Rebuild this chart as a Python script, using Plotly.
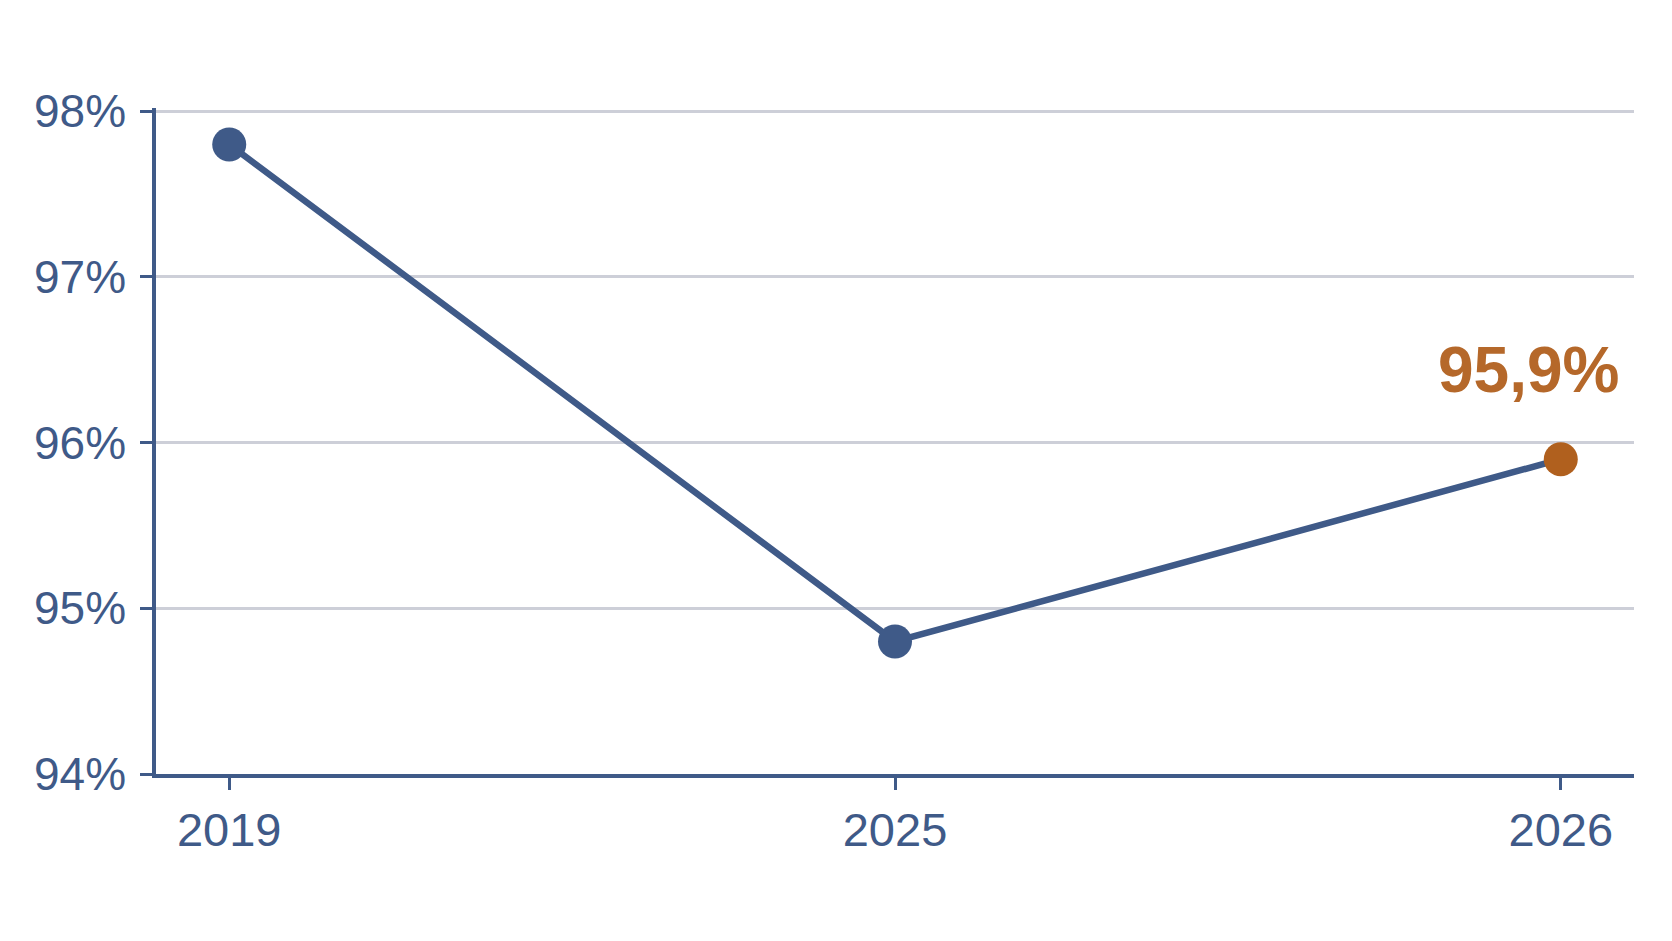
import plotly.graph_objects as go

years = ["2019", "2025", "2026"]
rates = [97.8, 94.8, 95.9]
point_colors = ["#3F5A88", "#3F5A88", "#B0601E"]
y_ticks = [94, 95, 96, 97, 98]
y_labels = ["94%", "95%", "96%", "97%", "98%"]
last_label = "95,9%"

blue = "#3F5A88"
font_name = "Liberation Sans, Arial"

fig = go.Figure()
fig.add_trace(go.Scatter(
    x=years, y=rates,
    mode="lines+markers",
    line=dict(color=blue, width=6.5),
    marker=dict(size=34, color=point_colors),
    hoverinfo="skip",
    showlegend=False,
))

# label over the latest value (category index, a "2026" string would be read as a number)
fig.add_annotation(
    x=len(years) - 1, y=rates[-1],
    xref="x", yref="y",
    text="<b>" + last_label + "</b>",
    showarrow=False,
    xshift=-32, yshift=89,
    font=dict(family=font_name, size=64, color="#B5682A"),
)

fig.update_xaxes(
    type="category",
    range=[-0.11, 2.11],
    showgrid=False,
    showline=True, linecolor=blue, linewidth=3.5,
    ticks="outside", ticklen=12, tickwidth=3, tickcolor=blue,
    tickfont=dict(family=font_name, size=47, color=blue),
)
fig.update_yaxes(
    range=[94, 98.02],
    tickvals=y_ticks,
    ticktext=y_labels,
    showgrid=True, gridcolor="#CDCFD8", gridwidth=2.5,
    zeroline=False,
    showline=True, linecolor=blue, linewidth=3.5,
    ticks="outside", ticklen=12, tickwidth=3, tickcolor=blue,
    ticklabelstandoff=5,
    tickfont=dict(family=font_name, size=46, color=blue),
)

fig.update_layout(
    width=1672, height=941,
    margin=dict(l=148, r=46, t=100, b=175),
    plot_bgcolor="white",
    paper_bgcolor="white",
)

fig.write_html("out.html")
